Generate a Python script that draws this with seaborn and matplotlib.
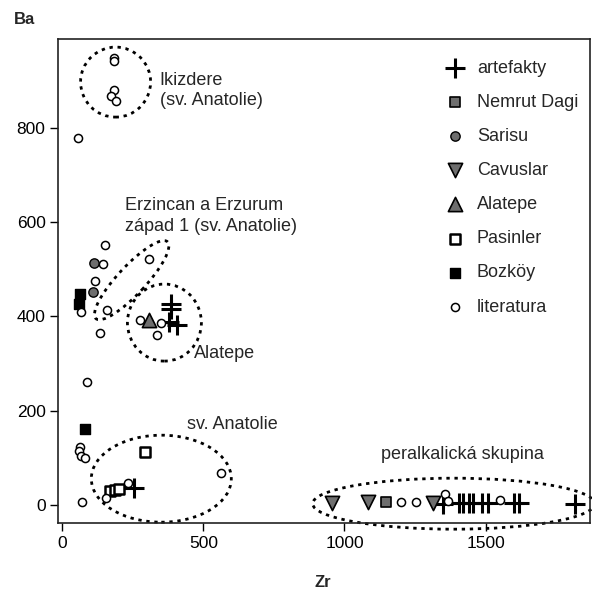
import matplotlib
matplotlib.use("Agg")
import matplotlib.pyplot as plt
import matplotlib.transforms as mtransforms
from matplotlib.patches import Ellipse
import pandas as pd
import seaborn as sns

# hodnoty (Zr, Ba)
artefakty_zr = [386, 386, 380, 405, 254, 1348, 1405, 1420, 1440, 1455, 1487, 1508, 1599, 1617, 1818]
artefakty_ba = [426, 415, 388, 382, 37, 3, 5, 5, 5, 5, 4, 4, 5, 5, 3]

nemrut_zr = [1148]
nemrut_ba = [6]

sarisu_zr = [111, 109]
sarisu_ba = [514, 451]

cavuslar_zr = [955, 1084, 1313]
cavuslar_ba = [4, 6, 4]

alatepe_zr = [306]
alatepe_ba = [393]

pasinler_zr = [294, 168, 186, 200]
pasinler_ba = [113, 30, 32, 35]

bozkoy_zr = [62, 58, 80]
bozkoy_ba = [447, 426, 161]

literatura_zr = [182, 182, 185, 174, 189, 56, 150, 144, 308, 115, 68, 160, 132, 277, 350,
                 336, 88, 62, 58, 68, 82, 70, 156, 233, 563, 1202, 1254, 1355, 1367, 1552]
literatura_ba = [949, 941, 881, 867, 857, 778, 552, 512, 522, 476, 410, 413, 365, 393, 386,
                 361, 262, 124, 114, 105, 100, 6, 15, 47, 68, 6, 6, 23, 9, 11]

sns.set_style("white")
plt.rcParams['font.family'] = ['Liberation Sans', 'DejaVu Sans']

fig = plt.figure(figsize=(5.92, 5.94), dpi=100)
ax = fig.add_axes([0.098, 0.1195, 0.8986, 0.8145])

grey = "#6e6e6e"

# kreslení skupin
skupiny = [
    ("artefakty", artefakty_zr, artefakty_ba, dict(marker="+", s=210, color="black", linewidth=2.2)),
    ("Nemrut Dagi", nemrut_zr, nemrut_ba, dict(marker="s", s=52, color=grey, edgecolor="black", linewidth=1.2)),
    ("Sarisu", sarisu_zr, sarisu_ba, dict(marker="o", s=45, color=grey, edgecolor="black", linewidth=1.0)),
    ("Cavuslar", cavuslar_zr, cavuslar_ba, dict(marker="v", s=105, color=grey, edgecolor="black", linewidth=1.2)),
    ("Alatepe", alatepe_zr, alatepe_ba, dict(marker="^", s=105, color=grey, edgecolor="black", linewidth=1.2)),
    ("Pasinler", pasinler_zr, pasinler_ba, dict(marker="s", s=55, color="white", edgecolor="black", linewidth=1.8)),
    ("Bozköy", bozkoy_zr, bozkoy_ba, dict(marker="s", s=58, color="black", edgecolor="black", linewidth=1.0)),
    ("literatura", literatura_zr, literatura_ba, dict(marker="o", s=34, color="white", edgecolor="black", linewidth=1.1)),
]

handles = []
for nazev, zr, ba, styl in skupiny:
    df = pd.DataFrame({"Zr": zr, "Ba": ba})
    sns.scatterplot(data=df, x="Zr", y="Ba", ax=ax, label=nazev, zorder=3, **styl)
    handles.append(ax.collections[-1])

ax.set_xlim(-15, 1870)
ax.set_ylim(-38, 988)
ax.set_xticks([0, 500, 1000, 1500])
ax.set_yticks([0, 200, 400, 600, 800])
ax.set_xlabel("")
ax.set_ylabel("")
ax.tick_params(axis="both", direction="out", length=6, width=1, labelsize=12.5, pad=3,
               bottom=True, left=True, colors="black")
for sp in ax.spines.values():
    sp.set_visible(True)
    sp.set_color("#222222")
    sp.set_linewidth(1.2)

fig.text(0.042, 0.968, "Ba", fontsize=12, fontweight="bold", ha="center", va="center")
fig.text(0.546, 0.02, "Zr", fontsize=12, fontweight="bold", ha="center", va="center")


# tečkované elipsy (rozměry v pixelech)
def dotted_ellipse(x, y, w_px, h_px, angle=0):
    tr = fig.dpi_scale_trans + mtransforms.ScaledTranslation(x, y, ax.transData)
    e = Ellipse((0, 0), w_px / 100, h_px / 100, angle=angle, transform=tr, fill=False,
                edgecolor="black", linewidth=2.0, linestyle=(0, (1.2, 1.7)), clip_on=False, zorder=2)
    ax.add_patch(e)


dotted_ellipse(189, 897, 70, 70)
dotted_ellipse(246, 477, 105, 28, angle=47)
dotted_ellipse(362, 387, 74, 77)
dotted_ellipse(351, 56, 140, 87)
dotted_ellipse(1387, 3, 282, 51)

# popisky skupin
ax.text(345, 880, "Ikizdere\n(sv. Anatolie)", fontsize=13, va="center", ha="left", linespacing=1.25)
ax.text(221, 613, "Erzincan a Erzurum\nzápad 1 (sv. Anatolie)", fontsize=13, va="center", ha="left", linespacing=1.25)
ax.text(465, 322, "Alatepe", fontsize=13, va="center", ha="left")
ax.text(442, 170, "sv. Anatolie", fontsize=13, va="center", ha="left")
ax.text(1128, 108, "peralkalická skupina", fontsize=13, va="center", ha="left")

ax.legend(handles=handles, labels=[s[0] for s in skupiny], loc="upper left",
          bbox_to_anchor=(0.719, 0.958), frameon=False, fontsize=13, borderpad=0,
          borderaxespad=0, labelspacing=0.95, handletextpad=0.42, handlelength=1.6)

fig.savefig("out.png", dpi=100)
